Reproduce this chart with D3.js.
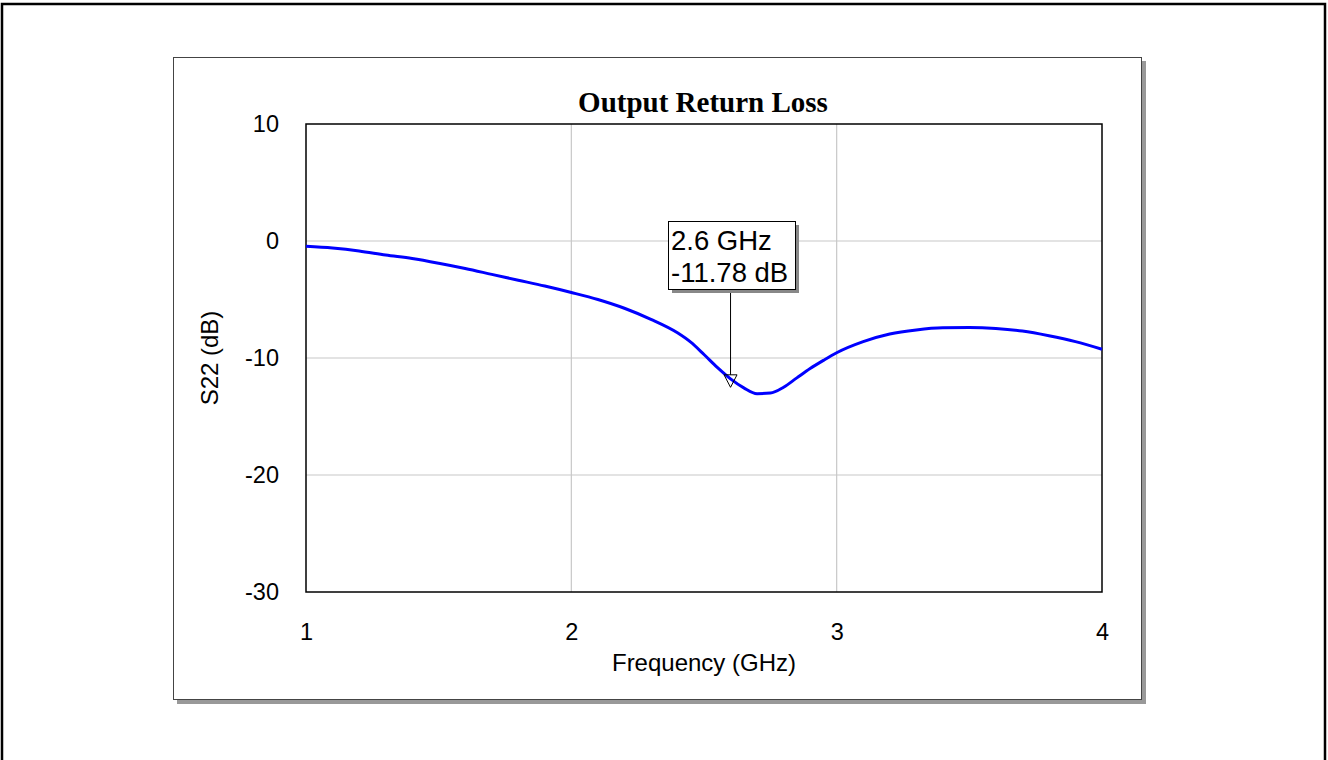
<!DOCTYPE html>
<html><head><meta charset="utf-8">
<script src="https://cdn.jsdelivr.net/npm/d3@7"></script>
<style>body{margin:0;background:#fff}svg{display:block}</style>
</head><body>
<svg id="c" width="1328" height="760"></svg>
<script>
const title = "Output Return Loss";
const xLabel = "Frequency (GHz)";
const yLabel = "S22 (dB)";
const xTicks = [1, 2, 3, 4];
const yTicks = [10, 0, -10, -20, -30];
const freq = [1.0,1.1,1.2,1.3,1.4,1.5,1.6,1.7,1.8,1.9,2.0,2.1,2.2,2.3,2.4,2.45,2.5,2.55,2.6,2.65,2.7,2.75,2.8,2.85,2.9,2.95,3.0,3.1,3.2,3.3,3.4,3.5,3.6,3.7,3.8,3.9,4.0];
const s22  = [-0.45,-0.6,-0.85,-1.2,-1.5,-1.9,-2.35,-2.85,-3.35,-3.85,-4.4,-5.0,-5.75,-6.7,-7.85,-8.65,-9.7,-10.8,-11.78,-12.55,-13.05,-13.0,-12.5,-11.7,-10.9,-10.2,-9.55,-8.6,-7.95,-7.6,-7.42,-7.4,-7.48,-7.7,-8.1,-8.6,-9.25];
const markerF = [2.6];
const markerV = [-11.78];
const markerText = ["2.6 GHz", "-11.78 dB"];

const svg = d3.select("#c");
const F = "Arial, 'Liberation Sans', sans-serif";

// outer border
svg.append("rect").attr("x",2).attr("y",4).attr("width",1323).attr("height",800)
  .attr("fill","none").attr("stroke","#000").attr("stroke-width",2.5);

// panel shadow + panel
svg.append("rect").attr("x",177).attr("y",61).attr("width",969).attr("height",643).attr("fill","#999");
svg.append("rect").attr("x",173.5).attr("y",57.5).attr("width",968).attr("height",642)
  .attr("fill","#fff").attr("stroke","#444").attr("stroke-width",1);

const L = 306, R = 1102, T = 124, B = 592;
const x = d3.scaleLinear().domain([1,4]).range([L,R]);
const y = d3.scaleLinear().domain([-30,10]).range([B,T]);

// grid
const g = svg.append("g");
g.selectAll(".gx").data(xTicks.slice(1,-1)).join("line")
  .attr("x1",d=>x(d)).attr("x2",d=>x(d)).attr("y1",T).attr("y2",B)
  .attr("stroke","#c8c8c8").attr("stroke-width",1.2);
g.selectAll(".gy").data(yTicks.slice(1,-1)).join("line")
  .attr("y1",d=>y(d)).attr("y2",d=>y(d)).attr("x1",L).attr("x2",R)
  .attr("stroke","#c8c8c8").attr("stroke-width",1.2);

// axes (labels via d3 axes, no tick lines)
const fmt = d => String(d);
const xa = svg.append("g").attr("transform",`translate(0,${B})`)
  .call(d3.axisBottom(x).tickValues(xTicks).tickSize(0).tickPadding(31).tickFormat(fmt));
const ya = svg.append("g").attr("transform",`translate(${L},0)`)
  .call(d3.axisLeft(y).tickValues(yTicks).tickSize(0).tickPadding(27).tickFormat(fmt));
[xa,ya].forEach(a=>{a.select(".domain").remove();
  a.selectAll("text").attr("font-family",F).attr("font-size",23.5).attr("fill","#000");});

// plot border
svg.append("rect").attr("x",L).attr("y",T).attr("width",R-L).attr("height",B-T)
  .attr("fill","none").attr("stroke","#000").attr("stroke-width",1.5);

// curve
const line = d3.line().x((d,i)=>x(freq[i])).y(d=>y(d)).curve(d3.curveMonotoneX);
svg.append("path").datum(s22).attr("d",line).attr("fill","none")
  .attr("stroke","#0000ff").attr("stroke-width",3).attr("stroke-linejoin","round");

// title & axis labels
svg.append("text").attr("x",703).attr("y",112).attr("text-anchor","middle")
  .attr("font-family","'Liberation Serif','Times New Roman',serif").attr("font-weight","bold")
  .attr("font-size",29).text(title);
svg.append("text").attr("x",(L+R)/2).attr("y",671).attr("text-anchor","middle")
  .attr("font-family",F).attr("font-size",24).text(xLabel);
svg.append("text").attr("transform",`translate(218,${(T+B)/2}) rotate(-90)`).attr("text-anchor","middle")
  .attr("font-family",F).attr("font-size",24).text(yLabel);

// marker
const mx = x(markerF[0]), my = y(markerV[0]);
const bx = 668, by = 221, bw = 127, bh = 68;
svg.append("line").attr("x1",mx).attr("x2",mx).attr("y1",by+bh).attr("y2",my-4)
  .attr("stroke","#000").attr("stroke-width",1);
svg.append("path").attr("d",`M${mx-6.5},${my-4} L${mx+6.5},${my-4} L${mx},${my+8.5} Z`)
  .attr("fill","none").attr("stroke","#000").attr("stroke-width",1);
svg.append("rect").attr("x",bx+4).attr("y",by+4).attr("width",bw).attr("height",bh).attr("fill","#888");
svg.append("rect").attr("x",bx+0.5).attr("y",by+0.5).attr("width",bw).attr("height",bh)
  .attr("fill","#fff").attr("stroke","#000").attr("stroke-width",1);
svg.append("g").selectAll("text").data(markerText).join("text")
  .attr("x",bx+3).attr("y",(d,i)=>by+29+i*32)
  .attr("font-family",F).attr("font-size",27.5).text(d=>d);
</script>
</body></html>
